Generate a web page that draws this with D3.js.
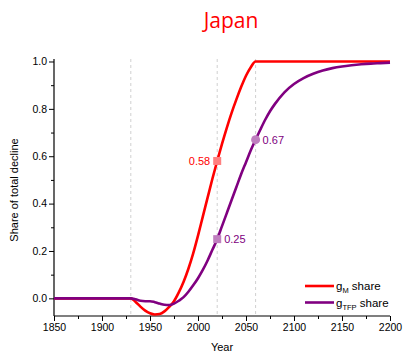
<!DOCTYPE html>
<html>
<head>
<meta charset="utf-8">
<script src="https://cdn.jsdelivr.net/npm/d3@7"></script>
<style>
  body { margin: 0; background: #fff; }
  text { font-family: "Liberation Sans", Arial, sans-serif; }
  .axis path, .axis line { stroke: #000; }
</style>
</head>
<body>
<script>
// data
var years = [1850, 1900, 1925, 1930, 1935, 1940, 1945, 1950, 1955, 1960, 1965, 1970, 1975, 1980,
  1985, 1990, 1995, 2000, 2005, 2010, 2015, 2020, 2025, 2030, 2035, 2040, 2045, 2050, 2055,
  2060, 2065, 2070, 2075, 2080, 2090, 2100, 2110, 2120, 2130, 2140, 2150, 2160, 2170, 2180, 2190, 2200];
var gM = [0, 0, 0, 0, -0.015, -0.035, -0.052, -0.063, -0.068, -0.066, -0.055, -0.036, -0.012, 0.025,
  0.07, 0.125, 0.19, 0.265, 0.345, 0.425, 0.505, 0.58, 0.652, 0.72, 0.783, 0.84, 0.893, 0.94, 0.976,
  1.0, 1.0, 1.0, 1.0, 1.0, 1.0, 1.0, 1.0, 1.0, 1.0, 1.0, 1.0, 1.0, 1.0, 1.0, 1.0, 1.0];
var gTFP = [0, 0, 0, 0, -0.004, -0.01, -0.012, -0.012, -0.016, -0.022, -0.027, -0.028, -0.022, -0.01,
  0.005, 0.028, 0.055, 0.085, 0.12, 0.16, 0.205, 0.25, 0.305, 0.36, 0.415, 0.47, 0.525, 0.575, 0.625,
  0.67, 0.713, 0.754, 0.79, 0.82, 0.87, 0.905, 0.93, 0.948, 0.962, 0.972, 0.979, 0.984, 0.988, 0.991, 0.993, 0.995];
var markYears = [1930, 2020, 2060];
var points = [
  {year: 2020, value: 0.58, label: "0.58", series: "gM", shape: "square"},
  {year: 2020, value: 0.25, label: "0.25", series: "gTFP", shape: "square"},
  {year: 2060, value: 0.67, label: "0.67", series: "gTFP", shape: "circle"}
];
var xTicks = [1850, 1900, 1950, 2000, 2050, 2100, 2150, 2200];
var yTicks = [0, 0.2, 0.4, 0.6, 0.8, 1.0];

var w = 412, h = 363;
var colors = {gM: "#ff0000", gTFP: "#800080"};
var light = {gM: "#ff7f7f", gTFP: "#bf7fbf"};

var svg = d3.select("body").append("svg").attr("width", w).attr("height", h);

var x = d3.scaleLinear().domain([1850, 2200]).range([54, 390]);
var y = d3.scaleLinear().domain([-0.0745, 1.0105]).range([316, 59]);

// title
svg.append("text").attr("x", 231).attr("y", 28).attr("text-anchor", "middle")
  .attr("fill", "#ff0000").style("font-family", "'Open Sans', sans-serif").style("font-size", "21px")
  .text("Japan");

// dashed reference lines
svg.selectAll(".ref").data(markYears).enter().append("line")
  .attr("class", "ref")
  .attr("x1", function(d) { return x(d); }).attr("x2", function(d) { return x(d); })
  .attr("y1", y.range()[1]).attr("y2", y.range()[0])
  .attr("stroke", "#d0d0d0").attr("stroke-width", 1).attr("stroke-dasharray", "3,3");

// axes
var xMinor = d3.axisBottom(x).tickValues(d3.range(1875, 2200, 50)).tickSize(3).tickFormat("");
var xAxis = d3.axisBottom(x).tickValues(xTicks).tickSize(5).tickPadding(3).tickFormat(d3.format("d"));
var yMinor = d3.axisLeft(y).tickValues([0.1, 0.3, 0.5, 0.7, 0.9]).tickSize(3).tickFormat("");
var yAxis = d3.axisLeft(y).tickValues(yTicks).tickSize(5).tickPadding(2).tickFormat(d3.format(".1f"));

svg.append("g").attr("class", "axis").attr("transform", "translate(0,316)").call(xMinor);
svg.append("g").attr("class", "axis").attr("transform", "translate(0,316)").call(xAxis);
svg.append("g").attr("class", "axis").attr("transform", "translate(54,0)").call(yMinor);
svg.append("g").attr("class", "axis").attr("transform", "translate(54,0)").call(yAxis);
svg.selectAll(".axis .domain").remove();
svg.append("line").attr("x1", 54).attr("x2", 390).attr("y1", 316).attr("y2", 316).attr("stroke", "#000").attr("stroke-width", 1.2);
svg.append("line").attr("x1", 54).attr("x2", 54).attr("y1", 59).attr("y2", 316).attr("stroke", "#000").attr("stroke-width", 1.2);
svg.selectAll(".axis text").style("font-size", "10.5px").attr("fill", "#000");

// axis titles
svg.append("text").attr("x", 222).attr("y", 351).attr("text-anchor", "middle")
  .style("font-size", "11px").text("Year");
svg.append("text").attr("transform", "translate(18,190) rotate(-90)").attr("text-anchor", "middle")
  .style("font-size", "11px").text("Share of total decline");

// lines
var line = d3.line().curve(d3.curveMonotoneX);
var series = [{key: "gM", values: gM}, {key: "gTFP", values: gTFP}];
svg.selectAll(".series").data(series).enter().append("path")
  .attr("class", "series")
  .attr("fill", "none")
  .attr("stroke", function(d) { return colors[d.key]; })
  .attr("stroke-width", 2.6)
  .attr("d", function(d) {
    return line(years.map(function(yr, i) { return [x(yr), y(d.values[i])]; }));
  });

// markers
points.forEach(function(p) {
  var cx = x(p.year), cy = y(p.value);
  if (p.shape === "square") {
    svg.append("rect").attr("x", cx - 4).attr("y", cy - 4).attr("width", 8).attr("height", 8)
      .attr("fill", light[p.series]);
  } else {
    svg.append("circle").attr("cx", cx).attr("cy", cy).attr("r", 4.5).attr("fill", light[p.series]);
  }
  var left = p.series === "gM";
  svg.append("text")
    .attr("x", left ? cx - 7 : cx + 7).attr("y", cy + 4)
    .attr("text-anchor", left ? "end" : "start")
    .attr("fill", colors[p.series]).style("font-size", "11px")
    .text(p.label);
});

// legend
var legend = [{key: "gM", sub: "M"}, {key: "gTFP", sub: "TFP"}];
legend.forEach(function(l, i) {
  var ly = 286 + i * 16.5;
  svg.append("line").attr("x1", 305).attr("x2", 334).attr("y1", ly).attr("y2", ly)
    .attr("stroke", colors[l.key]).attr("stroke-width", 2.6);
  var t = svg.append("text").attr("x", 336).attr("y", ly + 4).style("font-size", "11.5px");
  t.append("tspan").text("g");
  t.append("tspan").attr("dy", 3).style("font-size", "7.5px").text(l.sub);
  t.append("tspan").attr("dy", -3).text(" share");
});
</script>
</body>
</html>
